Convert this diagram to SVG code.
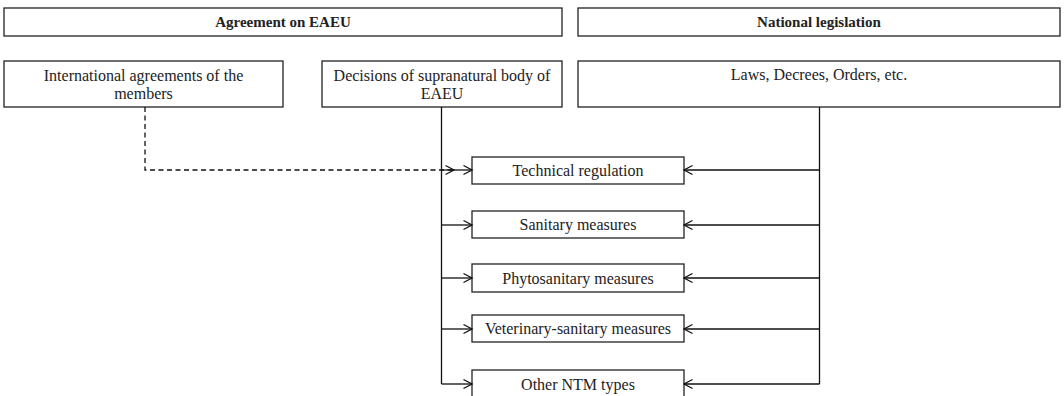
<svg xmlns="http://www.w3.org/2000/svg" width="1064" height="396" viewBox="0 0 1064 396">
<style>
.box{fill:#fff;stroke:#222;stroke-width:1.3}
.t{font-family:"Liberation Serif","Times New Roman",serif;font-size:16px;fill:#222;text-anchor:middle}
.b{font-weight:bold;font-size:15px}
.ln{fill:none;stroke:#111;stroke-width:1.3}
.dash{stroke-dasharray:5 3.5}
</style>
<defs>
<marker id="ah" markerWidth="12" markerHeight="12" refX="10" refY="6" orient="auto" markerUnits="userSpaceOnUse">
<path d="M1.5,1.5 L10,6 L1.5,10.5" fill="none" stroke="#111" stroke-width="1.3"/>
</marker>
</defs>
<rect width="1064" height="396" fill="#fff"/>
<g id="agreement"><rect class="box" x="4" y="8" width="558" height="28"/><text class="t b" x="283" y="27">Agreement on EAEU</text></g>
<g id="national"><rect class="box" x="578" y="8" width="482" height="28"/><text class="t b" x="819" y="27">National legislation</text></g>
<g id="intl"><rect class="box" x="4" y="61" width="279" height="46"/><text class="t" x="143.5" y="81">International agreements of the</text><text class="t" x="143.5" y="99">members</text></g>
<g id="decisions"><rect class="box" x="322" y="61" width="240" height="46"/><text class="t" x="442" y="81">Decisions of supranatural body of</text><text class="t" x="442" y="99">EAEU</text></g>
<g id="laws"><rect class="box" x="578" y="61" width="482" height="46"/><text class="t" x="819" y="80">Laws, Decrees, Orders, etc.</text></g>
<g id="tech"><rect class="box" x="472" y="157" width="212" height="27"/><text class="t" x="578" y="176">Technical regulation</text></g>
<g id="sanitary"><rect class="box" x="472" y="211" width="212" height="27"/><text class="t" x="578" y="230">Sanitary measures</text></g>
<g id="phyto"><rect class="box" x="472" y="264" width="212" height="28"/><text class="t" x="578" y="284">Phytosanitary measures</text></g>
<g id="vet"><rect class="box" x="472" y="315" width="212" height="27"/><text class="t" x="578" y="334">Veterinary-sanitary measures</text></g>
<g id="other"><rect class="box" x="472" y="370" width="212" height="30"/><text class="t" x="578" y="390">Other NTM types</text></g>
<g id="connectors">
<path class="ln dash" d="M145,107 V170 H454" marker-end="url(#ah)"/>
<path class="ln" d="M441.5,107 V384"/>
<path class="ln" d="M441.5,170 H472" marker-end="url(#ah)"/>
<path class="ln" d="M441.5,225 H472" marker-end="url(#ah)"/>
<path class="ln" d="M441.5,278 H472" marker-end="url(#ah)"/>
<path class="ln" d="M441.5,329 H472" marker-end="url(#ah)"/>
<path class="ln" d="M441.5,384 H472" marker-end="url(#ah)"/>
<path class="ln" d="M819.5,107 V384"/>
<path class="ln" d="M819.5,170 H684" marker-end="url(#ah)"/>
<path class="ln" d="M819.5,225 H684" marker-end="url(#ah)"/>
<path class="ln" d="M819.5,278 H684" marker-end="url(#ah)"/>
<path class="ln" d="M819.5,329 H684" marker-end="url(#ah)"/>
<path class="ln" d="M819.5,384 H684" marker-end="url(#ah)"/>
</g>
</svg>
